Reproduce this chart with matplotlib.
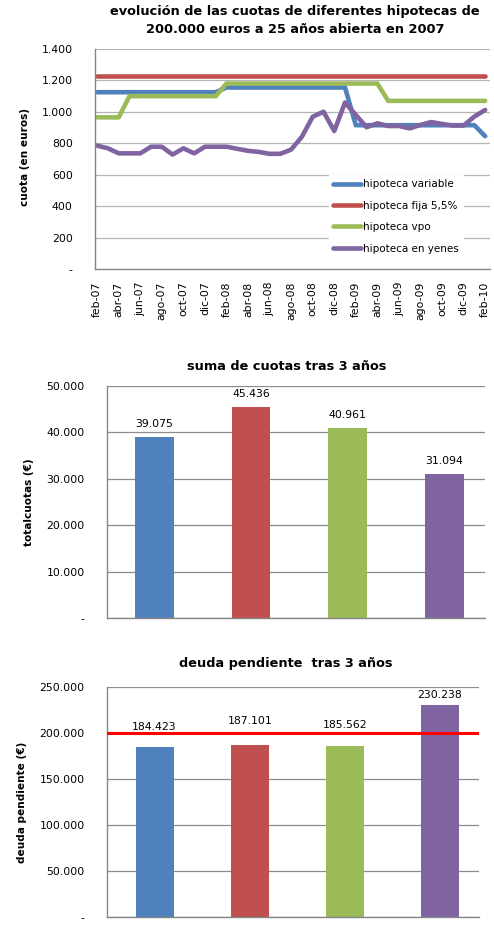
import matplotlib
matplotlib.use("Agg")
import matplotlib.pyplot as plt
from matplotlib.ticker import FuncFormatter

# series colours (excel 2007 palette)
AZUL = "#4F81BD"
ROJO = "#C0504D"
VERDE = "#9BBB59"
MORADO = "#8064A2"

# ---- datos: cuota mensual feb-07 .. feb-10 ----
meses = ["ene", "feb", "mar", "abr", "may", "jun", "jul", "ago", "sep", "oct", "nov", "dic"]
etiquetas_mes = [f"{meses[(1 + i) % 12]}-{7 + (1 + i) // 12:02d}" for i in range(37)]

cuota_variable = [1125] * 12 + [1155] * 12 + [915] * 12 + [845]
cuota_fija = [1228] * 37
cuota_vpo = [965] * 3 + [1100] * 9 + [1180] * 15 + [1070] * 10
cuota_yenes = [785, 768, 736, 736, 736, 778, 778, 728, 768, 736,
               778, 778, 778, 765, 752, 745, 733, 733, 760, 842,
               969, 1001, 878, 1060, 980, 902, 927, 910, 910, 895,
               917, 935, 923, 913, 913, 970, 1012]
series_nombres = ["hipoteca variable", "hipoteca fija 5,5%", "hipoteca vpo", "hipoteca en yenes"]

# ---- datos: barras ----
suma_cuotas = [39075, 45436, 40961, 31094]
deuda_pendiente = [184423, 187101, 185562, 230238]
capital_inicial = 200000

colores = [AZUL, ROJO, VERDE, MORADO]


def miles(v, pos=None):
    if v == 0:
        return "-"
    return f"{v:,.0f}".replace(",", ".")


W, H = 494, 938
fig = plt.figure(figsize=(W / 100, H / 100), dpi=100)


def caja(l, t, r, b):
    # pixel box -> figure fraction
    return [l / W, 1 - b / H, (r - l) / W, (b - t) / H]


def estilo(ax, grid_color):
    for s in ["top", "right"]:
        ax.spines[s].set_visible(False)
    for s in ["left", "bottom"]:
        ax.spines[s].set_color("#868686")
        ax.spines[s].set_linewidth(1.0)
    ax.yaxis.grid(True, color=grid_color, linewidth=0.9)
    ax.set_axisbelow(True)
    ax.yaxis.set_major_formatter(FuncFormatter(miles))
    ax.tick_params(axis="both", length=0, labelsize=7.8, colors="black")


# ---------------- grafico 1: lineas ----------------
ax1 = fig.add_axes(caja(95, 49, 490, 269))
x = list(range(len(etiquetas_mes)))
for datos, nombre, col in zip([cuota_variable, cuota_fija, cuota_vpo, cuota_yenes], series_nombres, colores):
    ax1.plot(x, datos, color=col, lw=3.3, label=nombre, solid_capstyle="round")
ax1.set_ylim(0, 1400)
ax1.set_yticks(range(0, 1401, 200))
ax1.set_xlim(-0.2, 36.45)
ax1.set_xticks(x[::2])
ax1.set_xticklabels(etiquetas_mes[::2], rotation=90)
estilo(ax1, "#b4b4b4")
ax1.tick_params(axis="y", pad=16)
ax1.tick_params(axis="x", pad=9)
leg = ax1.legend(loc="upper left", bbox_to_anchor=(329 / W, 1 - 175 / H), bbox_transform=fig.transFigure,
                 fontsize=7.5, frameon=True, fancybox=False, handlelength=2.7, handletextpad=0.15,
                 labelspacing=1.1, borderpad=0.4, borderaxespad=0)
leg.get_frame().set_facecolor("white")
leg.get_frame().set_edgecolor("white")
leg.get_frame().set_alpha(1)

fig.text(295 / W, 1 - 12 / H, "evolución de las cuotas de diferentes hipotecas de",
         ha="center", va="center", fontsize=9.3, fontweight="bold")
fig.text(295 / W, 1 - 29.5 / H, "200.000 euros a 25 años abierta en 2007",
         ha="center", va="center", fontsize=9.3, fontweight="bold")
fig.text(25 / W, 1 - 157 / H, "cuota (en euros)", rotation=90, ha="center", va="center",
         fontsize=7.6, fontweight="bold")

# ---------------- grafico 2: suma de cuotas ----------------
ax2 = fig.add_axes(caja(107, 386, 485, 618))
pos = list(range(len(suma_cuotas)))
barras = ax2.bar(pos, suma_cuotas, width=0.4, color=colores, zorder=2)
for b, v in zip(barras, suma_cuotas):
    ax2.annotate(miles(v), (b.get_x() + b.get_width() / 2, v), xytext=(0, 9.4),
                 textcoords="offset points", ha="center", va="center", fontsize=7.8)
ax2.set_ylim(0, 50000)
ax2.set_yticks(range(0, 50001, 10000))
ax2.set_xlim(-0.49, 3.42)
ax2.set_xticks([])
estilo(ax2, "#8c8c8c")
ax2.tick_params(axis="y", pad=16)
fig.text(287 / W, 1 - 366 / H, "suma de cuotas tras 3 años", ha="center", va="center",
         fontsize=9.3, fontweight="bold")
fig.text(29 / W, 1 - 502 / H, "totalcuotas (€)", rotation=90, ha="center", va="center",
         fontsize=7.6, fontweight="bold")

# ---------------- grafico 3: deuda pendiente ----------------
ax3 = fig.add_axes(caja(107, 687, 479, 917))
barras = ax3.bar(pos, deuda_pendiente, width=0.4, color=colores, zorder=2)
desplaz = [14.5, 17.3, 15.0, 7.3]  # etiquetas movidas a mano en el original
for b, v, d in zip(barras, deuda_pendiente, desplaz):
    ax3.annotate(miles(v), (b.get_x() + b.get_width() / 2, v), xytext=(0, d),
                 textcoords="offset points", ha="center", va="center", fontsize=7.8)
ax3.axhline(capital_inicial, color="#FF0000", lw=2.2, zorder=3)
ax3.set_ylim(0, 250000)
ax3.set_yticks(range(0, 250001, 50000))
ax3.set_xlim(-0.5, 3.41)
ax3.set_xticks([])
estilo(ax3, "#8c8c8c")
ax3.tick_params(axis="y", pad=16)
fig.text(286 / W, 1 - 663 / H, "deuda pendiente  tras 3 años", ha="center", va="center",
         fontsize=9.3, fontweight="bold")
fig.text(22 / W, 1 - 802 / H, "deuda pendiente (€)", rotation=90, ha="center", va="center",
         fontsize=7.6, fontweight="bold")

fig.savefig("out.png", dpi=100)
